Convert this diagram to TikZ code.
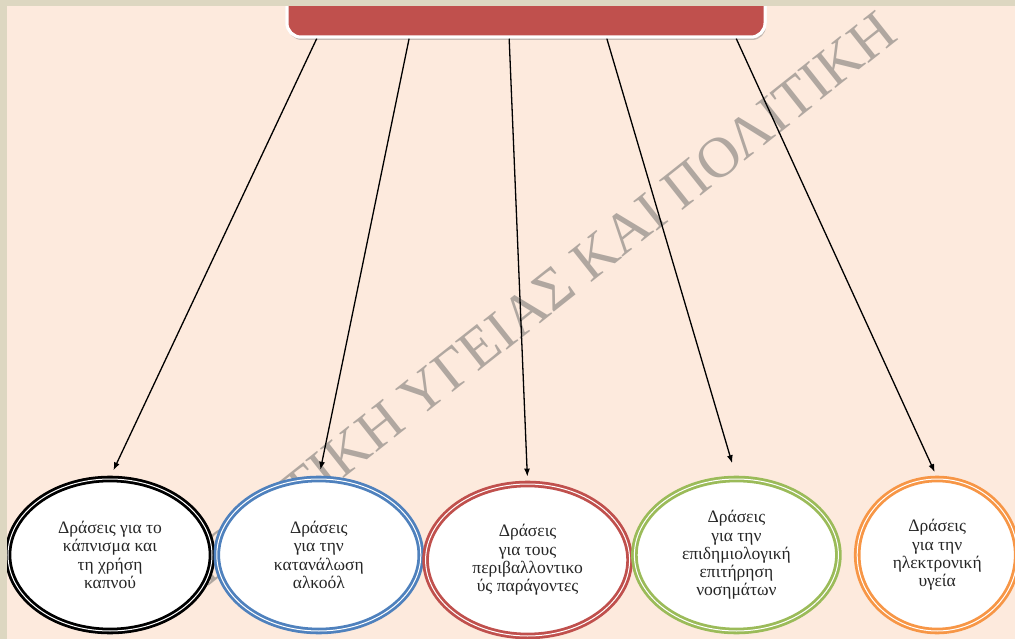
\documentclass[tikz,border=0pt]{standalone}
\usepackage{fontspec}
\setmainfont{Liberation Serif}
\usetikzlibrary{positioning,shapes.geometric,shadows,calc,arrows.meta}

\definecolor{peach}{RGB}{253,234,221}
\definecolor{framegray}{RGB}{221,215,193}
\definecolor{boxred}{RGB}{192,80,77}
\definecolor{ringblue}{RGB}{79,129,189}
\definecolor{ringgreen}{RGB}{155,187,89}
\definecolor{ringorange}{RGB}{247,150,70}
\definecolor{wmgray}{RGB}{176,167,160}

\tikzset{
    ring/.style={ellipse, draw=#1, double=white, double distance=1pt, line width=2.8pt,
        fill=white, minimum width=204pt, minimum height=152pt, inner sep=0pt,
        align=center, text=black!85, font=\fontsize{17.5}{18.3}\selectfont},
}

\begin{document}
\begin{tikzpicture}[x=1pt, y=-1pt, >={Latex[length=8pt,width=6pt]}]
    \useasboundingbox (0,0) rectangle (1015,639);
    \fill[peach] (0,0) rectangle (1015,639);

    \node[rotate=38.4, text=wmgray, font=\fontsize{57.5}{57.5}\selectfont] (wm) at (533,305) {ΠΟΛΙΤΙΚΗ ΥΓΕΙΑΣ ΚΑΙ ΠΟΛΙΤΙΚΗ};

    \node[fill=boxred, draw=white, line width=3pt, rounded corners=14pt, minimum width=478pt, minimum height=58pt,
        drop shadow={shadow xshift=1pt, shadow yshift=-3pt, opacity=.45}] (title) at (526,8) {};

    \node[ring=black] (smoke) at (110,555) {Δράσεις για το\\κάπνισμα και\\τη χρήση\\καπνού};
    \node[ring=ringblue, right=2pt of smoke] (alcohol) {Δράσεις\\για την\\κατανάλωση\\αλκοόλ};
    \node[ring=boxred, right=2pt of alcohol, yshift=-5pt] (environ) {Δράσεις\\για τους\\περιβαλλοντικο\\ύς παράγοντες};
    \node[ring=ringgreen, right=2pt of environ, yshift=5pt] (epidem) {Δράσεις\\για την\\επιδημιολογική\\επιτήρηση\\νοσημάτων};
    \node[ring=ringorange, right=16pt of epidem, minimum width=160pt] (ehealth) {Δράσεις\\για την\\ηλεκτρονική\\υγεία};

    \path[->, line width=1.3pt]
    ($(title.south west)!.065!(title.south east)$) edge[shorten >=8pt] (smoke.north)
    ($(title.south west)!.257!(title.south east)$) edge[shorten >=8pt] (alcohol.north)
    ($(title.south west)!.465!(title.south east)$) edge[shorten >=6pt] (environ.north)
    ($(title.south west)!.668!(title.south east)$) edge[shorten >=15pt] (epidem.north)
    ($(title.south west)!.937!(title.south east)$) edge[shorten >=6pt] (ehealth.north)
    ;

    \node[fill=boxred, draw=white, line width=3pt, rounded corners=14pt, minimum width=478pt, minimum height=58pt] at (title) {};

    \fill[framegray] (0,0) rectangle (1015,6);
    \fill[framegray] (0,0) rectangle (7,639);
\end{tikzpicture}
\end{document}
